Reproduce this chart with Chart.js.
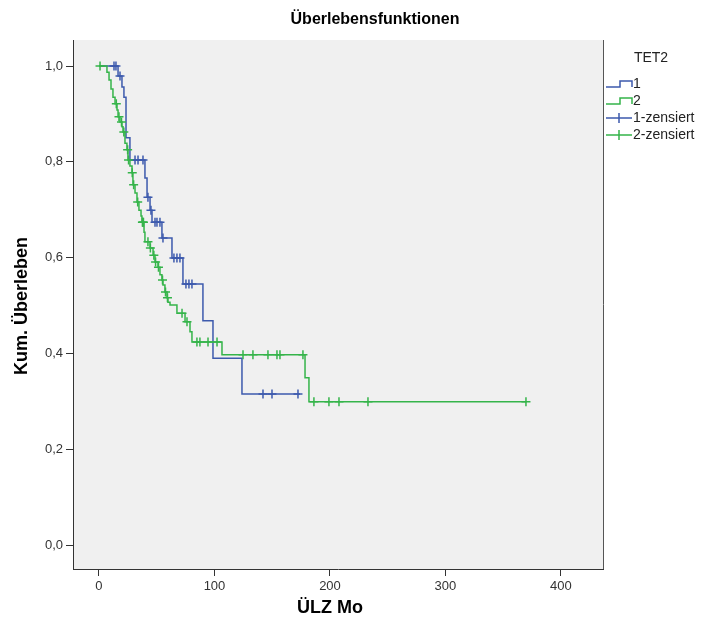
<!DOCTYPE html>
<html><head><meta charset="utf-8">
<script src="https://cdn.jsdelivr.net/npm/chart.js@4/dist/chart.umd.min.js"></script>
<style>html,body{margin:0;padding:0;background:#fff}#wrap{width:701px;height:626px;position:relative}</style>
</head><body><div id="wrap"><canvas id="c" width="701" height="626"></canvas></div>
<script>
// ---- data ----
const chartTitle = 'Überlebensfunktionen';
const xAxisTitle = 'ÜLZ Mo';
const yAxisTitle = 'Kum. Überleben';
const legendTitle = 'TET2';
const groupLabels = ['1', '2'];
const censorLabels = ['1-zensiert', '2-zensiert'];
const xTickValues = [0, 100, 200, 300, 400];
const yTickValues = [0, 0.2, 0.4, 0.6, 0.8, 1.0];

// group 1 (blue): event times and survival after each event
const g1Times = [16.5, 19.9, 21.6, 23.4, 26.8, 39.8, 41.6, 44.2, 45.9, 54.5, 63.2, 72.7, 90.0, 98.7, 123.8];
const g1Surv  = [0.979, 0.956, 0.935, 0.850, 0.804, 0.766, 0.726, 0.699, 0.674, 0.641, 0.599, 0.545, 0.468, 0.390, 0.315];
const g1End = 174.0;
const g1Censored = [13.0, 14.7, 18.2, 31.2, 33.8, 38.1, 42.4, 45.0, 48.5, 50.2, 52.8, 55.4, 64.9, 67.5, 70.1, 75.3, 77.9, 80.5, 142.0, 149.8, 172.3];

// group 2 (green)
const g2Times = [6.9, 8.7, 10.4, 12.1, 13.9, 15.6, 16.5, 18.2, 19.9, 20.8, 22.5, 24.2, 25.1, 26.8, 28.6, 29.4, 31.2, 32.9, 34.6, 36.4, 37.2, 39.0, 39.8, 44.2, 46.8, 48.5, 51.1, 52.8, 54.5, 55.4, 57.1, 58.9, 59.7, 61.5, 67.5, 74.5, 78.8, 80.5, 106.5, 178.4, 181.8];
const g2Surv  = [0.987, 0.971, 0.952, 0.935, 0.921, 0.908, 0.894, 0.883, 0.873, 0.862, 0.839, 0.825, 0.804, 0.791, 0.777, 0.752, 0.735, 0.716, 0.699, 0.687, 0.674, 0.653, 0.633, 0.620, 0.605, 0.591, 0.580, 0.564, 0.553, 0.543, 0.528, 0.516, 0.507, 0.501, 0.484, 0.466, 0.445, 0.424, 0.397, 0.349, 0.299];
const g2End = 370.0;
const g2Censored = [0.9, 15.0, 17.3, 19.5, 21.5, 24.8, 25.6, 28.8, 30.0, 33.5, 37.6, 38.0, 38.5, 42.4, 44.5, 47.5, 49.0, 51.5, 55.0, 57.6, 59.3, 71.9, 76.2, 84.8, 87.4, 94.4, 102.2, 124.7, 133.3, 146.3, 154.1, 156.7, 176.6, 186.1, 199.1, 207.8, 232.9, 369.7];

// ---- helpers ----
const BLUE = '#3d5aad';
const GREEN = '#35b44a';
const FONT = '"Liberation Sans", Arial, sans-serif';

function stepPoints(times, surv, end) {
  const pts = [{x: 0, y: 1}];
  times.forEach((t, i) => pts.push({x: t, y: surv[i]}));
  pts.push({x: end, y: surv[surv.length - 1]});
  return pts;
}
function survAt(times, surv, t) {
  let s = 1;
  for (let i = 0; i < times.length; i++) { if (times[i] <= t) s = surv[i]; }
  return s;
}
function censorPoints(times, surv, cens) {
  return cens.map(t => ({x: t, y: survAt(times, surv, t)}));
}
const fmt = v => v.toFixed(1).replace('.', ',');

const framePlugin = {
  id: 'frame',
  beforeDraw(chart) {
    const {ctx, chartArea: a} = chart;
    ctx.save();
    ctx.fillStyle = '#ffffff';
    ctx.fillRect(0, 0, chart.width, chart.height);
    ctx.fillStyle = '#f0f0f0';
    ctx.fillRect(a.left, a.top, a.right - a.left, a.bottom - a.top);
    ctx.restore();
  },
  afterDraw(chart) {
    const {ctx, chartArea: a} = chart;
    ctx.save();
    // right frame line
    ctx.strokeStyle = '#555';
    ctx.lineWidth = 1;
    ctx.beginPath();
    ctx.moveTo(a.right + 0.5, a.top);
    ctx.lineTo(a.right + 0.5, a.bottom);
    ctx.stroke();

    ctx.fillStyle = '#000';
    ctx.textAlign = 'center';
    ctx.textBaseline = 'middle';
    ctx.font = 'bold 16px ' + FONT;
    ctx.fillText(chartTitle, 375, 20);
    ctx.font = 'bold 18px ' + FONT;
    ctx.fillText(xAxisTitle, 330, 608);
    ctx.save();
    ctx.translate(22, 306);
    ctx.rotate(-Math.PI / 2);
    ctx.fillText(yAxisTitle, 0, 0);
    ctx.restore();

    // legend
    ctx.fillStyle = '#222';
    ctx.font = '14px ' + FONT;
    ctx.fillText(legendTitle, 651, 58);
    ctx.textAlign = 'left';
    const colors = [BLUE, GREEN];
    const rows = [84, 101, 118, 135];
    ctx.lineWidth = 1.5;
    for (let i = 0; i < 2; i++) {
      const y = rows[i];
      ctx.strokeStyle = colors[i];
      ctx.beginPath();
      ctx.moveTo(606, y + 3);
      ctx.lineTo(620, y + 3);
      ctx.lineTo(620, y - 3);
      ctx.lineTo(632, y - 3);
      ctx.lineTo(632, y + 3);
      ctx.stroke();
      ctx.fillText(groupLabels[i], 633, y);
    }
    for (let i = 0; i < 2; i++) {
      const y = rows[i + 2];
      ctx.strokeStyle = colors[i];
      ctx.beginPath();
      ctx.moveTo(606, y);
      ctx.lineTo(632, y);
      ctx.moveTo(619, y - 5);
      ctx.lineTo(619, y + 5);
      ctx.stroke();
      ctx.fillText(censorLabels[i], 633, y);
    }
    ctx.restore();
  }
};

new Chart(document.getElementById('c'), {
  type: 'scatter',
  data: {
    datasets: [
      {label: groupLabels[0], data: stepPoints(g1Times, g1Surv, g1End), showLine: true, stepped: 'before',
       borderColor: BLUE, borderWidth: 1.5, pointRadius: 0, fill: false, order: 3},
      {label: groupLabels[1], data: stepPoints(g2Times, g2Surv, g2End), showLine: true, stepped: 'before',
       borderColor: GREEN, borderWidth: 1.5, pointRadius: 0, fill: false, order: 2},
      {label: censorLabels[0], data: censorPoints(g1Times, g1Surv, g1Censored), showLine: false,
       pointStyle: 'cross', pointRadius: 4.5, borderColor: BLUE, backgroundColor: BLUE, pointBorderWidth: 1.5, order: 1},
      {label: censorLabels[1], data: censorPoints(g2Times, g2Surv, g2Censored), showLine: false,
       pointStyle: 'cross', pointRadius: 4.5, borderColor: GREEN, backgroundColor: GREEN, pointBorderWidth: 1.5, order: 0}
    ]
  },
  options: {
    responsive: false,
    animation: false,
    devicePixelRatio: 1,
    layout: {padding: {left: 0, top: 40, right: 98, bottom: 0}},
    plugins: {legend: {display: false}, tooltip: {enabled: false}, title: {display: false}},
    scales: {
      x: {
        type: 'linear', min: -22.5, max: 436.4,
        afterFit: s => { s.height = 57; },
        afterBuildTicks: s => { s.ticks = xTickValues.map(v => ({value: v})); },
        grid: {drawOnChartArea: false, drawTicks: true, tickLength: 7, color: '#333', lineWidth: 1},
        border: {display: true, color: '#333', width: 1},
        ticks: {color: '#333', font: {family: FONT, size: 13}, padding: 3, maxRotation: 0,
                callback: v => String(v)}
      },
      y: {
        type: 'linear', min: -0.0501, max: 1.0543,
        afterFit: s => { s.width = 73; },
        afterBuildTicks: s => { s.ticks = yTickValues.map(v => ({value: v})); },
        grid: {drawOnChartArea: false, drawTicks: true, tickLength: 7, color: '#333', lineWidth: 1},
        border: {display: true, color: '#333', width: 1},
        ticks: {color: '#333', font: {family: FONT, size: 13}, padding: 3, callback: v => fmt(v)}
      }
    }
  },
  plugins: [framePlugin]
});
</script>
</body></html>
